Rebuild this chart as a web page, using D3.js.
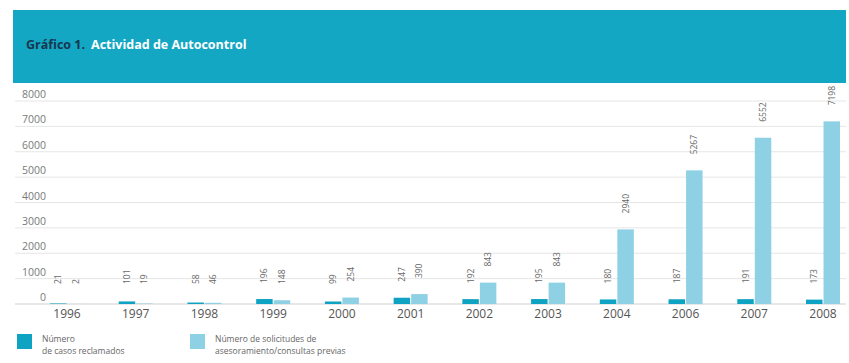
<!DOCTYPE html>
<html>
<head>
<meta charset="utf-8">
<script src="https://cdn.jsdelivr.net/npm/d3@7"></script>
<style>
  body { margin: 0; background: #fff; }
  text { font-family: "Open Sans", "Noto Sans", sans-serif; }
</style>
</head>
<body>
<script>
var svgWidth = 849;
var svgHeight = 363;

// DATA
var years = ["1996", "1997", "1998", "1999", "2000", "2001", "2002", "2003", "2004", "2006", "2007", "2008"];
var casosReclamados = [21, 101, 58, 196, 99, 247, 192, 195, 180, 187, 191, 173];
var solicitudes = [2, 19, 46, 148, 254, 390, 843, 843, 2940, 5267, 6552, 7198];
var yTicks = [0, 1000, 2000, 3000, 4000, 5000, 6000, 7000, 8000];
var seriesNames = ["Número\nde casos reclamados", "Número de solicitudes de\nasesoramiento/consultas previas"];
var seriesColors = ["#0ea3c2", "#8ed0e4"];

var svg = d3.select("body")
  .append("svg")
  .attr("width", svgWidth)
  .attr("height", svgHeight);

// HEADER BAND
svg.append("rect")
  .attr("x", 13).attr("y", 10)
  .attr("width", 833).attr("height", 73)
  .attr("fill", "#14a7c4");

var title = svg.append("text")
  .attr("x", 26).attr("y", 49)
  .attr("font-size", 12.5)
  .attr("font-weight", "bold");
title.append("tspan").attr("fill", "#17364f").text("Gráfico 1.");
title.append("tspan").attr("fill", "#ffffff").attr("dx", 6).text("Actividad de Autocontrol");

// SCALES
var yScale = d3.scaleLinear().domain([0, 8000]).range([304, 101]);

var xCenter = d3.scalePoint().domain(years).range([67, 823]);

var xSub = d3.scaleBand().domain([0, 1]).range([-17, 17]).paddingInner(0.06);

// GRIDLINES + Y LABELS
var grid = svg.append("g");
grid.selectAll("line")
  .data(yTicks)
  .enter()
  .append("line")
  .attr("x1", 15).attr("x2", 846)
  .attr("y1", d => yScale(d)).attr("y2", d => yScale(d))
  .attr("stroke", d => d === 0 ? "#cfcfcf" : "#e6e6e6")
  .attr("stroke-width", 1);

grid.selectAll("text")
  .data(yTicks)
  .enter()
  .append("text")
  .attr("x", 46)
  .attr("y", d => yScale(d) - 3)
  .attr("text-anchor", "end")
  .attr("font-size", 10.5)
  .attr("fill", "#7a7a7a")
  .text(d => d);

// BARS
var rows = years.map(function(y, i) {
  return { year: y, values: [casosReclamados[i], solicitudes[i]] };
});

var groups = svg.selectAll(".year")
  .data(rows)
  .enter()
  .append("g")
  .attr("class", "year")
  .attr("transform", d => `translate(${xCenter(d.year)}, 0)`);

groups.selectAll("rect")
  .data(d => d.values.map((v, k) => ({ v: v, k: k })))
  .enter()
  .append("rect")
  .attr("x", d => xSub(d.k))
  .attr("width", xSub.bandwidth())
  .attr("y", d => yScale(d.v))
  .attr("height", d => yScale(0) - yScale(d.v))
  .attr("fill", d => seriesColors[d.k]);

// VALUE LABELS (rotated)
groups.selectAll("text.val")
  .data(d => d.values.map((v, k) => ({ v: v, k: k })))
  .enter()
  .append("text")
  .attr("class", "val")
  .attr("transform", function(d) {
    var cx = xSub(d.k) + xSub.bandwidth() / 2 + 3;
    var cy = Math.min(yScale(d.v), yScale(0) - 4) - 16;
    return `translate(${cx}, ${cy}) rotate(-90)`;
  })
  .attr("font-size", 8.5)
  .attr("fill", "#666")
  .text(d => d.v);

// X AXIS LABELS
svg.append("g").selectAll("text")
  .data(years)
  .enter()
  .append("text")
  .attr("x", d => xCenter(d))
  .attr("y", 318)
  .attr("text-anchor", "middle")
  .attr("font-size", 12)
  .attr("fill", "#555")
  .text(d => d);

// LEGEND
var legendX = [17, 190];
var legend = svg.selectAll(".legend")
  .data(seriesNames)
  .enter()
  .append("g")
  .attr("class", "legend")
  .attr("transform", (d, i) => `translate(${legendX[i]}, 334)`);

legend.append("rect")
  .attr("width", 15).attr("height", 15)
  .attr("fill", (d, i) => seriesColors[i]);

legend.selectAll("text")
  .data(d => d.split("\n"))
  .enter()
  .append("text")
  .attr("x", 25)
  .attr("y", (d, j) => 8 + j * 12)
  .attr("font-size", 8.5)
  .attr("fill", "#666")
  .text(d => d);
</script>
</body>
</html>
